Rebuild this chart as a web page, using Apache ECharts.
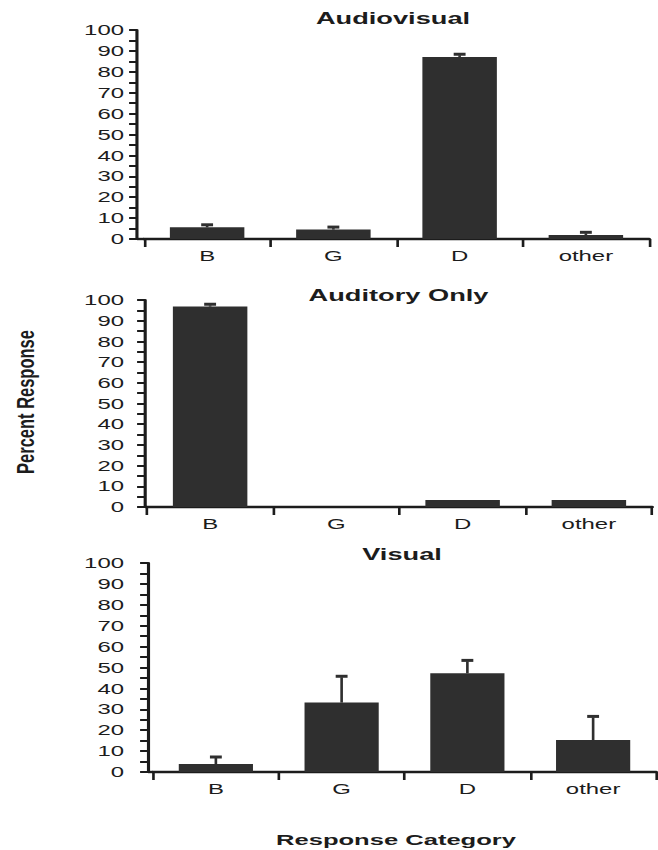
<!DOCTYPE html>
<html>
<head>
<meta charset="utf-8">
<script src="https://cdn.jsdelivr.net/npm/echarts@6/dist/echarts.min.js"></script>
<style>
  html, body { margin: 0; padding: 0; background: #fff; overflow: hidden; }
  #wrap { width: 658px; height: 850px; overflow: hidden; position: relative; }
  #chart { position: absolute; left: 0; top: 0; height: 850px; transform-origin: 0 0; }
</style>
</head>
<body>
<div id="wrap"><div id="chart"></div></div>
<script>
// ---- data ----
const categories = ['B', 'G', 'D', 'other'];
const panelTitles = ['Audiovisual', 'Auditory Only', 'Visual'];
const audiovisualMean = [5.6, 4.5, 87.1, 1.9];
const audiovisualErr  = [1.2, 1.2, 1.3, 1.3];
const auditoryMean    = [96.8, 0, 3.4, 3.4];
const auditoryErr     = [1.1, 0, 0, 0];
const visualMean      = [3.8, 33.2, 47.2, 15.3];
const visualErr       = [3.4, 12.6, 6.2, 11.3];
const yMin = 0, yMax = 100, yStep = 10;
const yAxisTitle = 'Percent Response';
const xAxisTitle = 'Response Category';

// ---- layout (page pixels) ----
// the figure is drawn narrow and widened by SX, giving its broad lettering
const SX = 1.65;
const W = 658, H = 850;
const CW = W / SX;
const panels = [
  { axisX: 137, left: 144, right: 649, top: 30,  bottom: 239, titleY: 19 },
  { axisX: 145, left: 147, right: 652, top: 300, bottom: 507, titleY: 296 },
  { axisX: 148, left: 153, right: 656, top: 563, bottom: 772, titleY: 555 }
];
const labelRight = 124;
const ink = '#1c1c1c';
const barColor = '#2f2f2f';
const font = '"Liberation Sans", Arial, Helvetica, sans-serif';

const means = [audiovisualMean, auditoryMean, visualMean];
const errs = [audiovisualErr, auditoryErr, visualErr];

const el = document.getElementById('chart');
el.style.width = CW + 'px';
el.style.transform = 'scaleX(' + SX + ')';

const chart = echarts.init(el, null, { renderer: 'svg', width: CW, height: H });

// upper error bar: stem from the bar top plus a flat cap
function errorBar(params, api) {
  const err = api.value(2);
  if (!(err > 0)) return null;
  const base = api.coord([api.value(0), api.value(1)]);
  const tip = api.coord([api.value(0), api.value(1) + err]);
  const capHalf = 3.6;
  return {
    type: 'group',
    children: [
      { type: 'line', shape: { x1: base[0], y1: base[1], x2: tip[0], y2: tip[1] + 1 },
        style: { stroke: barColor, lineWidth: 1.6 } },
      { type: 'rect', shape: { x: tip[0] - capHalf, y: tip[1] - 1.5, width: capHalf * 2, height: 3 },
        style: { fill: barColor } }
    ]
  };
}

const grid = [], xAxis = [], yAxis = [], series = [], title = [], graphic = [];
panels.forEach((p, i) => {
  grid.push({
    left: p.left / SX, right: (W - p.right) / SX,
    top: p.top, height: p.bottom - p.top, containLabel: false
  });
  xAxis.push({
    type: 'category', gridIndex: i, data: categories,
    axisLine: { show: true, lineStyle: { color: ink, width: 2.4 } },
    axisTick: { show: true, length: 8, lineStyle: { color: ink, width: 1.6 } },
    axisLabel: { margin: 9, fontSize: 14.5, color: ink, fontFamily: font },
    splitLine: { show: false }
  });
  yAxis.push({
    type: 'value', gridIndex: i, min: yMin, max: yMax, interval: yStep,
    offset: (p.left - p.axisX) / SX,
    axisLine: { show: true, lineStyle: { color: ink, width: 1.9 } },
    axisTick: { show: true, length: 4.8, lineStyle: { color: ink, width: 2 } },
    minorTick: { show: true, splitNumber: 2, length: 4.8, lineStyle: { color: ink, width: 2 } },
    axisLabel: { margin: (p.axisX - labelRight) / SX, fontSize: 14.5, color: ink, fontFamily: font },
    splitLine: { show: false }
  });
  series.push({
    type: 'bar', xAxisIndex: i, yAxisIndex: i, data: means[i],
    barWidth: '59%', itemStyle: { color: barColor }, silent: true
  });
  series.push({
    type: 'custom', xAxisIndex: i, yAxisIndex: i, z: 3,
    data: means[i].map((m, j) => [j, m, errs[i][j]]),
    renderItem: errorBar, silent: true
  });
  title.push({
    text: panelTitles[i], padding: 0,
    left: ((p.axisX + p.right) / 2) / SX, top: p.titleY - 9, textAlign: 'center',
    textStyle: { fontSize: 16.5, fontWeight: 'bold', color: ink, fontFamily: font }
  });
  // carry the baseline from the value axis to the first category boundary
  graphic.push({
    type: 'line', silent: true,
    shape: { x1: p.axisX / SX, y1: p.bottom, x2: p.left / SX, y2: p.bottom },
    style: { stroke: ink, lineWidth: 2.4 }
  });
});

title.push({
  text: xAxisTitle, padding: 0, left: 396 / SX, top: 831, textAlign: 'center',
  textStyle: { fontSize: 15.5, fontWeight: 'bold', color: ink, fontFamily: font }
});

graphic.push({
  type: 'text', silent: true,
  x: 25 / SX, y: 402, rotation: Math.PI / 2, scaleY: 0.88,
  style: {
    text: yAxisTitle, fill: ink,
    font: 'bold 16.5px ' + font,
    textAlign: 'center', textVerticalAlign: 'middle',
    align: 'center', verticalAlign: 'middle'
  }
});

chart.setOption({
  animation: false,
  backgroundColor: '#fff',
  title, grid, xAxis, yAxis, series, graphic
});
</script>
</body>
</html>
